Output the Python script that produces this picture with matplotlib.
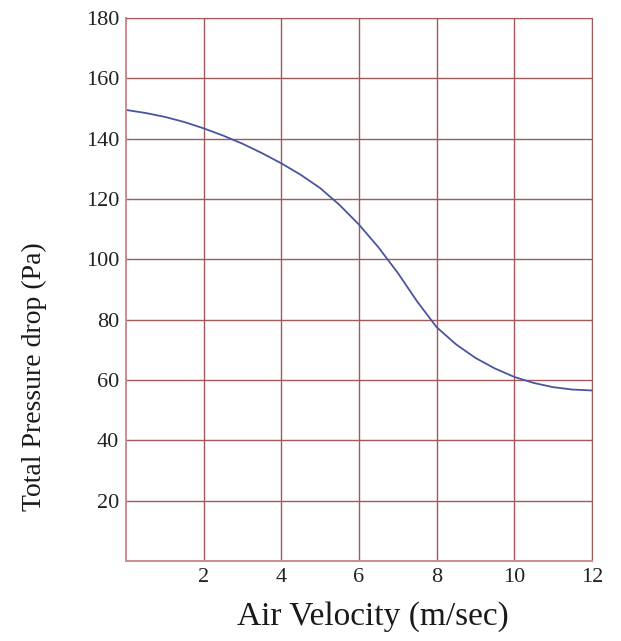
import matplotlib
matplotlib.use('Agg')
import matplotlib.pyplot as plt

# valores (queda de pressão x velocidade do ar)
velocidade = [0, 0.5, 1, 1.5, 2, 2.5, 3, 3.5, 4, 4.5, 5, 5.5, 6, 6.5, 7,
              7.5, 8, 8.5, 9, 9.5, 10, 10.5, 11, 11.5, 12]
queda_pressao = [149.5, 148.5, 147.2, 145.5, 143.4, 141.0, 138.3, 135.2,
                 131.8, 128.0, 123.6, 118.0, 111.5, 104.0, 95.5, 86.0,
                 77.5, 71.8, 67.3, 63.8, 61.0, 59.0, 57.6, 56.8, 56.5]

x_ticks = [2, 4, 6, 8, 10, 12]
y_ticks = [20, 40, 60, 80, 100, 120, 140, 160, 180]

plt.rcParams['font.family'] = ['Liberation Serif', 'DejaVu Serif']

fig = plt.figure(figsize=(6.21, 6.41), dpi=100)
ax = fig.add_axes([0.203, 0.125, 0.750, 0.847])

ax.plot(velocidade, queda_pressao, color='#4a55a0', linewidth=1.3)

ax.set_xlim(0, 12)
ax.set_ylim(0, 180)
ax.set_xticks(x_ticks)
ax.set_yticks(y_ticks)
ax.tick_params(length=0, labelsize=16, colors='#222222', pad=5)

# grade marrom-avermelhada
ax.grid(True, color='#a05a5a', linewidth=1.0)
for lado in ['top', 'right']:
    ax.spines[lado].set_color('#a05a5a')
for lado in ['left', 'bottom']:
    ax.spines[lado].set_color('#d08a8a')
    ax.spines[lado].set_linewidth(1.4)

ax.set_xlabel('Air Velocity (m/sec)', fontsize=24, color='#1a1a1a')
ax.set_ylabel('Total Pressure drop (Pa)', fontsize=20, color='#1a1a1a')
ax.xaxis.set_label_coords(0.53, -0.075)
ax.yaxis.set_label_coords(-0.17, 0.339)

plt.savefig('out.png', dpi=100)
